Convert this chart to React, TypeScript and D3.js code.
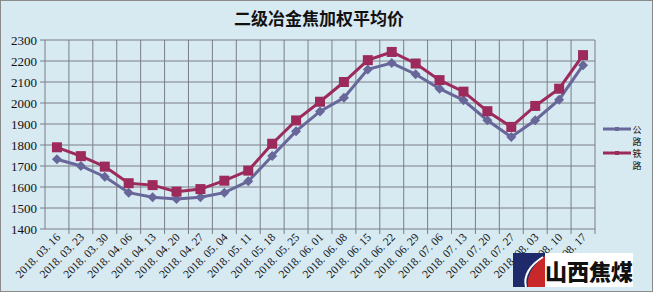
import React from "react";
import * as d3 from "d3";

const categories = [
  "2018. 03. 16", "2018. 03. 23", "2018. 03. 30", "2018. 04. 06", "2018. 04. 13",
  "2018. 04. 20", "2018. 04. 27", "2018. 05. 04", "2018. 05. 11", "2018. 05. 18",
  "2018. 05. 25", "2018. 06. 01", "2018. 06. 08", "2018. 06. 15", "2018. 06. 22",
  "2018. 06. 29", "2018. 07. 06", "2018. 07. 13", "2018. 07. 20", "2018. 07. 27",
  "2018. 08. 03", "2018. 08. 10", "2018. 08. 17",
];
const highway = [
  1732, 1700, 1649, 1573, 1551, 1543, 1551, 1573, 1627, 1748,
  1866, 1960, 2025, 2160, 2190, 2137, 2068, 2013, 1918, 1838,
  1918, 2016, 2180,
];
const railway = [
  1789, 1747, 1697, 1618, 1609, 1578, 1590, 1630, 1678, 1806,
  1917, 2006, 2100, 2204, 2243, 2188, 2109, 2054, 1961, 1886,
  1986, 2068, 2228,
];
const yTicks = [1400, 1500, 1600, 1700, 1800, 1900, 2000, 2100, 2200, 2300];
const title = "二级冶金焦加权平均价";
const legendNames = ["公路", "铁路"];

const W = 653, H = 292;
const left = 45, right = 595, top = 40, bottom = 229;
const BLUE = "#67679a";
const RED = "#9c2b5c";

export default function App() {
  const x = d3.scaleBand<string>().domain(categories).range([left, right]);
  const y = d3.scaleLinear().domain([1400, 2300]).range([bottom, top]);
  const cx = (c: string) => (x(c) as number) + x.bandwidth() / 2;
  const line = d3.line<number>().x((_, i) => cx(categories[i])).y((d) => y(d));
  const serif = "'Liberation Serif', 'DejaVu Serif', serif";
  const cjk = "'Noto Sans CJK SC', sans-serif";
  const boundaries = categories.map((c) => x(c) as number).concat([right]);

  return (
    <svg width={W} height={H} style={{ position: "absolute", left: 0, top: 0 }}>
      <rect x={0.5} y={0.5} width={W - 1} height={H - 1} fill="#d7e9f1" stroke="#8a8a8a" />
      <text x={319} y={25} textAnchor="middle" fontFamily={cjk} fontWeight={700} fontSize={17} fill="#111">{title}</text>
      {/* grid */}
      {yTicks.map((t) => (
        <line key={"h" + t} x1={left - 5} x2={right} y1={y(t)} y2={y(t)} stroke="#7a7f86" strokeWidth={1} />
      ))}
      {boundaries.map((b, i) => (
        <line key={"v" + i} x1={b} x2={b} y1={top} y2={bottom + (i === 0 ? 0 : 5)} stroke="#7a7f86" strokeWidth={1} />
      ))}
      {yTicks.map((t) => (
        <text key={"yl" + t} x={37} y={y(t) + 4.5} textAnchor="end" fontFamily={serif} fontSize={13} fill="#111">{t}</text>
      ))}
      {categories.map((c) => (
        <text key={"xl" + c} transform={`translate(${cx(c) + 4},${bottom + 9}) rotate(-45)`} textAnchor="end" fontFamily={serif} fontSize={11.5} fill="#111">{c}</text>
      ))}
      {/* series */}
      <path d={line(highway) as string} fill="none" stroke={BLUE} strokeWidth={3} />
      {highway.map((v, i) => {
        const px = cx(categories[i]), py = y(v);
        return <path key={"hm" + i} d={`M${px},${py - 5}L${px + 5},${py}L${px},${py + 5}L${px - 5},${py}Z`} fill={BLUE} />;
      })}
      <path d={line(railway) as string} fill="none" stroke={RED} strokeWidth={3} />
      {railway.map((v, i) => {
        const px = cx(categories[i]), py = y(v);
        return <rect key={"rm" + i} x={px - 5} y={py - 5} width={10} height={10} fill={RED} />;
      })}
      {/* legend */}
      {[BLUE, RED].map((col, i) => {
        const ly = 129 + i * 24;
        return (
          <g key={"lg" + i}>
            <line x1={603} x2={631} y1={ly} y2={ly} stroke={col} strokeWidth={3} />
            <rect x={615} y={ly - 2} width={4} height={4} fill={col} />
            {legendNames[i].split("").map((ch, j) => (
              <text key={j} x={637} y={ly + 3.5 + j * 12} textAnchor="middle" fontFamily={cjk} fontSize={9} fill="#111">{ch}</text>
            ))}
          </g>
        );
      })}
      {/* logo */}
      <g>
        <rect x={513} y={253} width={120} height={34} fill="#ffffff" />
        <rect x={513} y={253} width={32} height={34} fill="#1f2a6b" />
        <path d="M545,256 L545,287 L528,287 C526,276 533,264 545,256 Z" fill="#c8282a" />
        <path d="M543,257 C530,265 523,276 526,287" fill="none" stroke="#ffffff" strokeWidth={2} />
        <text x={589} y={280} textAnchor="middle" fontFamily={cjk} fontWeight={900} fontSize={22} fill="#111">山西焦煤</text>
      </g>
    </svg>
  );
}
